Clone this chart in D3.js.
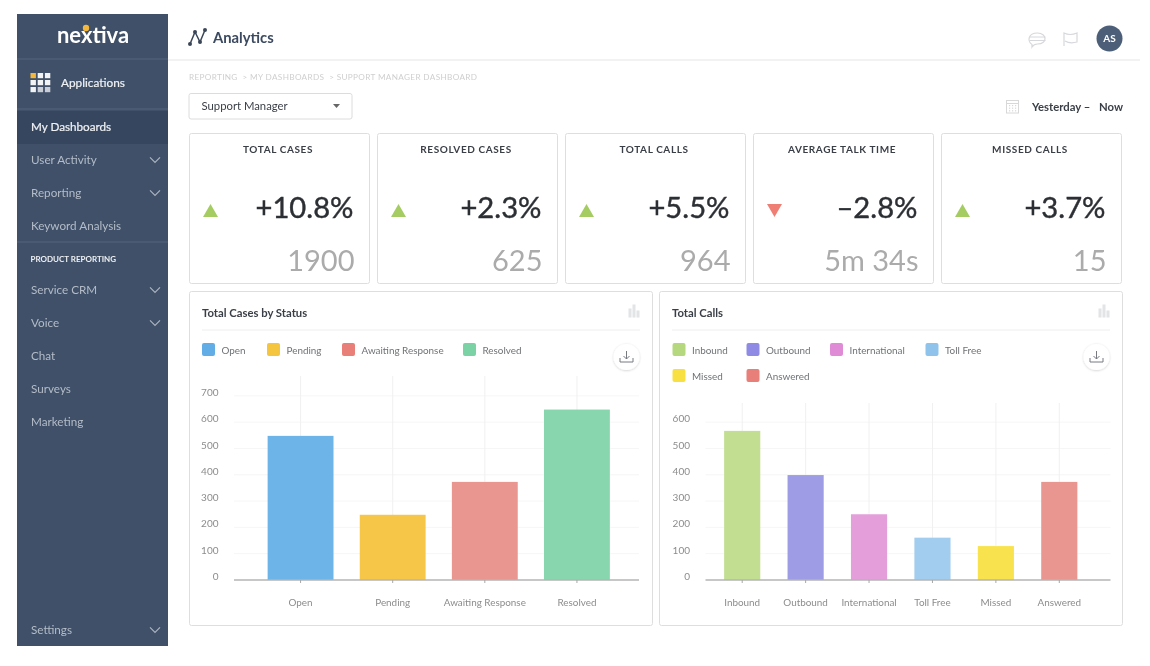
<!DOCTYPE html>
<html>
<head>
<meta charset="utf-8">
<title>Analytics</title>
<script src="https://cdn.jsdelivr.net/npm/d3@7"></script>
<style>
  html, body { margin: 0; padding: 0; background: #fff; }
  svg { display: block; font-family: Lato, "Open Sans", sans-serif; filter: blur(0.45px); }
</style>
</head>
<body>
<svg id="page" width="1150" height="666"></svg>
<script>
// sidebar
const navItems = ["User Activity", "Reporting", "Keyword Analysis", "Service CRM", "Voice", "Chat", "Surveys", "Marketing", "Settings"];
const navY = [164.3, 197.3, 230.3, 294.3, 327.3, 360.3, 393.3, 425.5, 634.3];
const navArrow = [true, true, false, true, true, false, false, false, true];

// kpi cards
const kpiTitles = ["TOTAL CASES", "RESOLVED CASES", "TOTAL CALLS", "AVERAGE TALK TIME", "MISSED CALLS"];
const kpiChanges = ["+10.8%", "+2.3%", "+5.5%", "–2.8%", "+3.7%"];
const kpiValues = ["1900", "625", "964", "5m 34s", "15"];
const kpiUp = [true, true, true, false, true];
const kpiLeft = [189, 377, 565, 753, 941];

// total cases by status
const caseCategories = ["Open", "Pending", "Awaiting Response", "Resolved"];
const caseValues = [548, 248, 373, 648];
const caseColors = ["#6db5e8", "#f5c648", "#ea9690", "#88d6ae"];
const caseSwatches = ["#63ade6", "#f5c540", "#e97f79", "#7bd2a4"];
const caseTicks = [0, 100, 200, 300, 400, 500, 600, 700];

// total calls
const callCategories = ["Inbound", "Outbound", "International", "Toll Free", "Missed", "Answered"];
const callValues = [567, 399, 250, 161, 129, 373];
const callColors = ["#c2de90", "#9f9ce6", "#e49fdb", "#a2cdee", "#f8e34e", "#ea9690"];
const callSwatches = ["#b5d87f", "#8f8be4", "#e08bd6", "#8fc3ec", "#f9e042", "#e97f79"];
const callTicks = [0, 100, 200, 300, 400, 500, 600];

const svg = d3.select("#page");
const navy = "#3f5068";
const textDark = "#3a3f47";

const defs = svg.append("defs");
const shadow = defs.append("filter").attr("id", "btnShadow").attr("x", "-30%").attr("y", "-30%").attr("width", "160%").attr("height", "160%");
shadow.append("feDropShadow").attr("dx", 0).attr("dy", 0.6).attr("stdDeviation", 1.2).attr("flood-color", "#000").attr("flood-opacity", 0.2);

function drawText(g, x, y, str, size, fill, weight, anchor, spacing) {
    return g.append("text").attr("x", x).attr("y", y).text(str)
        .attr("font-size", size).attr("fill", fill)
        .attr("font-weight", weight || 400)
        .attr("text-anchor", anchor || "start")
        .attr("letter-spacing", spacing || null);
}

// ---- sidebar
const side = svg.append("g");
side.append("rect").attr("x", 17).attr("y", 14).attr("width", 151).attr("height", 632).attr("fill", navy);
side.append("rect").attr("x", 17).attr("y", 111).attr("width", 151).attr("height", 33).attr("fill", "#35465e");
[59, 109, 242].forEach(y => {
    side.append("line").attr("x1", 17).attr("x2", 168).attr("y1", y).attr("y2", y).attr("stroke", "#55657c").attr("stroke-width", 1);
});

drawText(side, 93, 43, "nextiva", 22, "#fff", 700, "middle");
side.append("circle").attr("cx", 86).attr("cy", 28).attr("r", 3.2).attr("fill", "#f5b83d");

// apps grid icon
d3.range(9).forEach(i => {
    side.append("rect")
        .attr("x", 30.5 + (i % 3) * 7.2).attr("y", 73 + Math.floor(i / 3) * 7)
        .attr("width", 5.4).attr("height", 5.2)
        .attr("fill", i === 0 ? "#f5b83d" : (i > 6 ? "#c9ced6" : "#f2f3f5"));
});
drawText(side, 61, 87, "Applications", 11.8, "#f0f2f5", 400).attr("stroke", "#f0f2f5").attr("stroke-width", 0.2);
drawText(side, 31, 131, "My Dashboards", 11.7, "#f0f2f5", 400).attr("stroke", "#f0f2f5").attr("stroke-width", 0.2);
drawText(side, 30.5, 262, "PRODUCT REPORTING", 8, "#eef0f3", 700);

navItems.forEach((name, i) => {
    drawText(side, 31, navY[i], name, 11.7, "#b4bcc8");
    if (navArrow[i]) {
        side.append("path")
            .attr("d", d3.line()([[150, navY[i] - 7], [155, navY[i] - 2], [160, navY[i] - 7]]))
            .attr("fill", "none").attr("stroke", "#aab3c0").attr("stroke-width", 1.2);
    }
});

// ---- header
const head = svg.append("g");
head.append("line").attr("x1", 168).attr("x2", 1140).attr("y1", 60).attr("y2", 60).attr("stroke", "#e6e6e6").attr("stroke-width", 1.2);
head.append("path").attr("d", d3.line()([[190, 44], [195, 32], [200, 42], [205, 30]]))
    .attr("fill", "none").attr("stroke", "#3a4658").attr("stroke-width", 1.5);
[[190, 44], [195, 32], [200, 42], [205, 30]].forEach(p => {
    head.append("circle").attr("cx", p[0]).attr("cy", p[1]).attr("r", 2).attr("fill", "#3a4658");
});
drawText(head, 213, 43, "Analytics", 14.8, "#3b4a60", 700);

// chat, flag, avatar
head.append("path").attr("d", "M1032 44.5C1027 41 1028 33 1037.5 33C1047 33 1048 44 1037.5 44C1036 44 1034 44 1032 47Z")
    .attr("fill", "none").attr("stroke", "#d6d8db").attr("stroke-width", 1.2);
[37, 40.5].forEach(y => {
    head.append("line").attr("x1", 1029.5).attr("x2", 1045.5).attr("y1", y).attr("y2", y).attr("stroke", "#d6d8db");
});
head.append("path").attr("d", "M1064 46V33Q1070 36 1077 33V42Q1070 44 1065 41")
    .attr("fill", "none").attr("stroke", "#d6d8db").attr("stroke-width", 1.2);
head.append("circle").attr("cx", 1109.5).attr("cy", 38.5).attr("r", 13).attr("fill", "#4c5e78");
drawText(head, 1109.5, 42, "AS", 10, "#fff", 700, "middle");

drawText(head, 189, 80, "REPORTING  > MY DASHBOARDS  > SUPPORT MANAGER DASHBOARD", 8.2, "#cfcfcf", 400, "start", 0.34)
    .style("white-space", "pre");

head.append("rect").attr("x", 189).attr("y", 93.5).attr("width", 163).attr("height", 25.5).attr("rx", 2)
    .attr("fill", "#fff").attr("stroke", "#dcdcdc");
drawText(head, 201.5, 110, "Support Manager", 11.3, textDark);
head.append("path").attr("d", "M333 104H340L336.5 108Z").attr("fill", "#666");

head.append("rect").attr("x", 1006.5).attr("y", 100.5).attr("width", 12).attr("height", 12.5).attr("fill", "none").attr("stroke", "#d8d8d8");
head.append("line").attr("x1", 1006.5).attr("x2", 1018.5).attr("y1", 103.5).attr("y2", 103.5).attr("stroke", "#d8d8d8");
d3.range(9).forEach(i => {
    head.append("rect").attr("x", 1009 + (i % 3) * 3).attr("y", 105 + Math.floor(i / 3) * 2.6)
        .attr("width", 1.2).attr("height", 1.2).attr("fill", "#d8d8d8");
});
drawText(head, 1032, 111, "Yesterday –", 11.3, textDark, 700);
drawText(head, 1123, 111, "Now", 11.3, textDark, 700, "end");

// ---- kpi cards
const cards = svg.append("g").selectAll("g").data(kpiTitles).join("g")
    .attr("transform", (d, i) => `translate(${kpiLeft[i]},133)`);
cards.append("rect").attr("x", 0.5).attr("y", 0.5).attr("width", 180).attr("height", 150).attr("rx", 2)
    .attr("fill", "#fff").attr("stroke", "#dedede");
cards.append("text").attr("x", 89).attr("y", 20).attr("text-anchor", "middle")
    .attr("font-size", 10).attr("font-weight", 700).attr("letter-spacing", 0.6).attr("fill", textDark)
    .text(d => d);
cards.append("path")
    .attr("d", (d, i) => kpiUp[i] ? "M14 84H29L21.5 71Z" : "M14 71H29L21.5 84Z")
    .attr("fill", (d, i) => kpiUp[i] ? "#a5cc63" : "#ef7f74");
cards.append("text").attr("x", 164.5).attr("y", 85).attr("text-anchor", "end")
    .attr("font-size", 29.2).attr("fill", "#2c2f33").attr("stroke", "#2c2f33").attr("stroke-width", 0.4)
    .text((d, i) => kpiChanges[i]);
cards.append("text").attr("x", 165.5).attr("y", 138).attr("text-anchor", "end")
    .attr("font-size", 29).attr("fill", "#ababab")
    .text((d, i) => kpiValues[i]);

// ---- bar chart panels
function drawPanel(opt) {
    const g = svg.append("g");
    g.append("rect").attr("x", opt.left + 0.5).attr("y", 291.5).attr("width", 463).attr("height", 334).attr("rx", 2)
        .attr("fill", "#fff").attr("stroke", "#dedede");
    drawText(g, opt.left + 13, 317, opt.title, 11.3, textDark, 700);
    g.append("line").attr("x1", opt.left + 13).attr("x2", opt.left + 451).attr("y1", 330).attr("y2", 330).attr("stroke", "#eeeeee");

    // small bars icon, top right
    [[0, 9], [4, 13], [8, 7]].forEach(b => {
        g.append("rect").attr("x", opt.left + 439.5 + b[0]).attr("y", 317.5 - b[1]).attr("width", 3).attr("height", b[1]).attr("fill", "#e2e4e6");
    });

    // legend
    opt.categories.forEach((c, i) => {
        const lx = opt.legendX[i], ly = opt.legendY[i];
        g.append("rect").attr("x", lx).attr("y", ly - 11).attr("width", 13).attr("height", 13).attr("rx", 2).attr("fill", opt.swatches[i]);
        drawText(g, lx + 19.5, ly - 0.5, c, 9.9, "#6f7276");
    });

    // download button
    const bx = opt.left + 437.5, by = 357;
    g.append("circle").attr("cx", bx).attr("cy", by).attr("r", 13).attr("fill", "#fff").attr("filter", "url(#btnShadow)");
    g.append("path").attr("d", `M${bx} ${by - 6}V${by + 2}M${bx - 3} ${by - 1}L${bx} ${by + 2}L${bx + 3} ${by - 1}M${bx - 6.5} ${by + 1}V${by + 5}H${bx + 6.5}V${by + 1}`)
        .attr("fill", "none").attr("stroke", "#777b80").attr("stroke-width", 1);

    const y = d3.scaleLinear().domain([0, 100]).range([580, 553.7]);
    const x = d3.scaleBand().domain(opt.categories).range(opt.band).paddingInner(opt.pad).paddingOuter(opt.pad / 2);

    // horizontal grid
    g.append("g").selectAll("line").data(opt.ticks.filter(t => t > 0)).join("line")
        .attr("x1", opt.axisX[0]).attr("x2", opt.axisX[1])
        .attr("y1", d => y(d)).attr("y2", d => y(d))
        .attr("stroke", "#f6f6f6");
    // vertical grid
    g.append("g").selectAll("line").data(opt.categories).join("line")
        .attr("x1", d => x(d) + x.bandwidth() / 2).attr("x2", d => x(d) + x.bandwidth() / 2)
        .attr("y1", opt.gridTop).attr("y2", 580)
        .attr("stroke", "#f0f0f0");

    g.append("g").selectAll("rect").data(opt.values).join("rect")
        .attr("x", (d, i) => x(opt.categories[i]))
        .attr("y", d => y(d))
        .attr("width", x.bandwidth())
        .attr("height", d => y(0) - y(d))
        .attr("fill", (d, i) => opt.colors[i]);

    const yAxis = g.append("g").attr("transform", `translate(${opt.axisX[0] - 15.5},0)`)
        .call(d3.axisLeft(y).tickValues(opt.ticks).tickSize(0).tickPadding(0));
    yAxis.select(".domain").remove();
    yAxis.selectAll("text").attr("font-family", "Lato").attr("font-size", 10).attr("fill", "#8c8c8c").attr("dy", "-0.05em");

    g.append("line").attr("x1", opt.axisX[0]).attr("x2", opt.axisX[1]).attr("y1", 580).attr("y2", 580)
        .attr("stroke", "#b4b4b4").attr("stroke-width", 1.3);
    const xAxis = g.append("g").attr("transform", "translate(0,580)")
        .call(d3.axisBottom(x).tickSize(3).tickPadding(15.5));
    xAxis.select(".domain").remove();
    xAxis.selectAll("line").attr("stroke", "#a8a8a8");
    xAxis.selectAll("text").attr("font-family", "Lato").attr("font-size", 9.9).attr("fill", "#8c8c8c");
}

drawPanel({
    left: 189, title: "Total Cases by Status",
    categories: caseCategories, values: caseValues, colors: caseColors, swatches: caseSwatches, ticks: caseTicks,
    legendX: [202, 267, 342, 463], legendY: [354, 354, 354, 354],
    band: [254.5, 623], pad: 0.285, axisX: [234, 639], gridTop: 376
});
drawPanel({
    left: 659, title: "Total Calls",
    categories: callCategories, values: callValues, colors: callColors, swatches: callSwatches, ticks: callTicks,
    legendX: [672.5, 746.5, 830, 925.5, 672.5, 746.5], legendY: [354, 354, 354, 354, 380, 380],
    band: [710.5, 1091], pad: 0.43, axisX: [705.5, 1110.5], gridTop: 403
});
</script>
</body>
</html>
